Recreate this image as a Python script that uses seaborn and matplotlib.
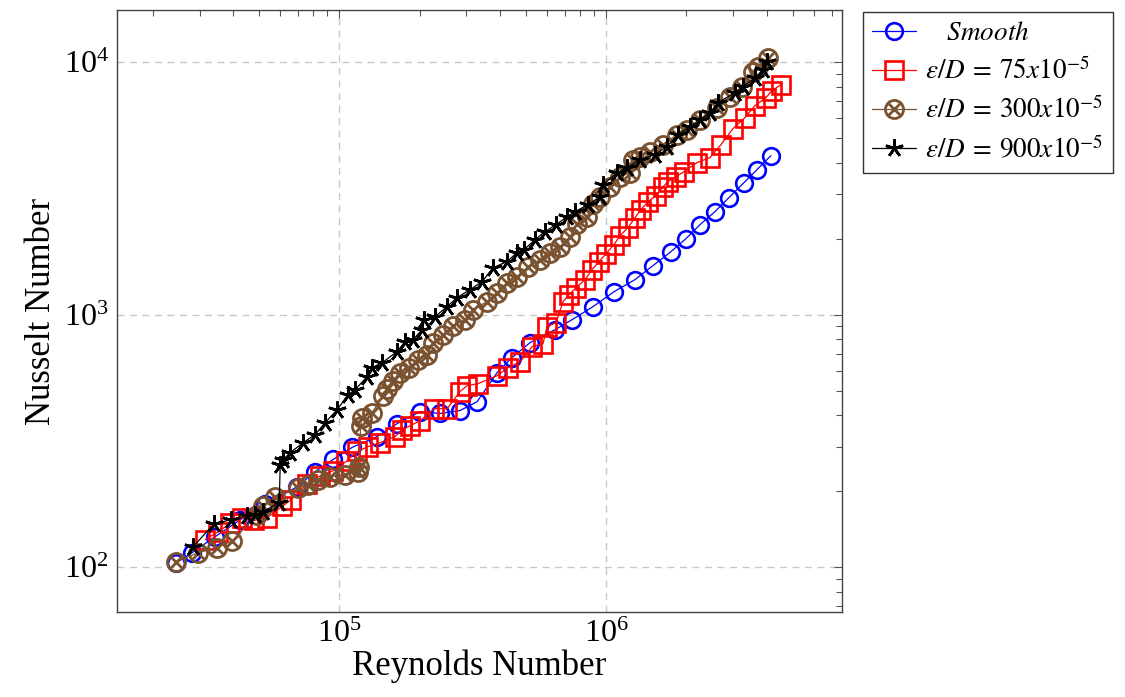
import matplotlib
matplotlib.use("Agg")
import matplotlib.pyplot as plt
import seaborn as sns
from matplotlib.path import Path
from matplotlib.ticker import LogLocator, NullFormatter

# Smooth pipe
smooth_re = [24500, 28100, 34300, 42600, 52800, 69600, 81300, 95000, 111900, 138800,
             164900, 201100, 238900, 283800, 328800, 390700, 444600, 519400, 644200,
             746100, 894000, 1072000, 1284000, 1500000, 1752000, 1994000, 2250000,
             2560000, 2889000, 3288000, 3678000, 4150000]
smooth_nu = [104, 114, 132, 154, 177, 208, 239, 267, 298, 329,
             370, 413, 406, 417, 452, 589, 676, 775, 872,
             955, 1076, 1233, 1376, 1564, 1776, 2000, 2272,
             2558, 2907, 3332, 3751, 4263]

# Relative roughness 75e-5
r75_re = [31500, 35200, 39100, 43300, 48000, 53700, 61200, 66100, 75900, 84900,
          95000, 106200, 116800, 128400, 142400, 162100, 172200, 184500, 201100, 226900,
          253800, 283800, 301600, 331700, 390700, 429500, 476400, 528400, 580900, 601200,
          649800, 690200, 727000, 772200, 834300, 886300, 941400, 1000000, 1072000, 1128000,
          1209000, 1284000, 1352000, 1437000, 1539000, 1635000, 1707000, 1829000, 1960000,
          2192000, 2452000, 2696000, 2990000, 3317000, 3615000, 3975000, 4186000, 4523000]
r75_nu = [128.5, 138, 149, 157, 153, 157, 174, 185, 214, 230,
          241, 262, 287, 300, 311, 329, 350, 363, 380, 424,
          424, 496, 523, 533, 573, 617, 651, 747, 768, 896,
          930, 1126, 1200, 1279, 1376, 1507, 1622, 1745, 1893, 2056,
          2211, 2422, 2605, 2803, 2960, 3213, 3363, 3519, 3684,
          4000, 4187, 4713, 5453, 6029, 6725, 7234, 7711, 8145]

# Relative roughness 300e-5
r300_re = [24500, 29640, 34920, 39740, 49320, 51920, 57590, 70210, 76530, 83440,
           92530, 105300, 117800, 119000, 120300, 121900, 132900, 146200, 151300, 159300,
           169200, 182900, 197600, 213600, 224900, 245200, 267300, 296400, 317700, 358400,
           390700, 425900, 464200, 510500, 566100, 617000, 672600, 733300, 778900, 848800,
           894000, 949500, 1035000, 1128000, 1230000, 1262000, 1341000, 1462000, 1635000,
           1845000, 2011000, 2250000, 2604000, 2914000, 3232000, 3553000, 3710000, 4044000]
r300_nu = [105, 114, 119.5, 127, 161, 174, 190, 206, 212, 222,
           228, 232, 239, 250, 363, 391, 409, 478, 509, 548,
           589, 617, 663, 694, 775, 833, 905, 955, 1047, 1126,
           1222, 1339, 1414, 1549, 1651, 1761, 1859, 2037, 2293, 2444,
           2752, 2934, 3213, 3519, 3650, 4111, 4225, 4421, 4713,
           5164, 5404, 5920, 6603, 7301, 7998, 9171, 9598, 10420]

# Relative roughness 900e-5
r900_re = [28390, 34020, 39390, 45200, 48460, 51920, 59600, 60120, 61700, 65550,
           73310, 81320, 88620, 98290, 108100, 114800, 127300, 132900, 144900, 164900,
           176700, 189300, 204600, 208200, 228800, 253800, 276700, 309500, 343300, 377500,
           425900, 464200, 493200, 542300, 591000, 649800, 714500, 765600, 856200, 949500,
           974500, 1100000, 1199000, 1341000, 1526000, 1692000, 1861000, 2064000, 2250000,
           2452000, 2627000, 3042000, 3260000, 3615000, 3873000, 4009000]
r900_nu = [120.6, 148.7, 154, 160, 161.4, 165.9, 180, 254.6, 266.5, 284,
           311, 335, 373.5, 420.5, 482, 505, 568, 617, 645, 714,
           782, 796, 872, 955, 982, 1076, 1168, 1256, 1351, 1535,
           1622, 1761, 1809, 1982, 2132, 2272, 2444, 2558, 2726, 2934,
           3272, 3650, 3821, 4111, 4302, 4628, 5164, 5554, 5920,
           6310, 6912, 7571, 7998, 8682, 9339, 10046]

labels = [r"$\;\;\;\;Smooth$", r"$\epsilon/D\:=\:75x10^{-5}$",
          r"$\epsilon/D\:=\:300x10^{-5}$", r"$\epsilon/D\:=\:900x10^{-5}$"]

sns.set_theme(style="white")
plt.rcParams["font.family"] = ["Liberation Serif", "DejaVu Serif"]
plt.rcParams["mathtext.fontset"] = "stix"
plt.rcParams["text.color"] = "black"
plt.rcParams["axes.labelcolor"] = "black"
plt.rcParams["xtick.labelcolor"] = "black"
plt.rcParams["ytick.labelcolor"] = "black"

# circle with a cross inside (otimes)
d = 0.7071
otimes = Path.make_compound_path(
    Path.unit_circle(),
    Path([(-d, -d), (d, d), (-d, d), (d, -d)],
         [Path.MOVETO, Path.LINETO, Path.MOVETO, Path.LINETO]),
)

fig = plt.figure(figsize=(11.25, 6.97), dpi=100)
ax = fig.add_axes([0.104, 0.122, 0.6444, 0.8637])
ax.set_xscale("log")
ax.set_yscale("log")

series = [
    (smooth_re, smooth_nu, "#0000ff", "o", 12.0, 1.9),
    (r75_re, r75_nu, "#ff0000", "s", 12.5, 1.9),
    (r300_re, r300_nu, "#7a5230", otimes, 13.0, 2.0),
    (r900_re, r900_nu, "#000000", (5, 2, 0), 13.0, 1.9),
]
for (xs, ys, col, mk, ms, mew), lab in zip(series, labels):
    sns.lineplot(x=xs, y=ys, ax=ax, color=col, linewidth=0.9, marker=mk,
                 markersize=ms, markeredgewidth=mew, markeredgecolor=col,
                 markerfacecolor="none", estimator=None, sort=False, label=lab)

ax.set_xlim(1.47e4, 7.66e6)
ax.set_ylim(66.4, 1.61e4)

ax.xaxis.set_major_locator(LogLocator(base=10))
ax.yaxis.set_major_locator(LogLocator(base=10))
ax.xaxis.set_minor_locator(LogLocator(base=10, subs=range(2, 10)))
ax.yaxis.set_minor_locator(LogLocator(base=10, subs=range(2, 10)))
ax.xaxis.set_minor_formatter(NullFormatter())
ax.yaxis.set_minor_formatter(NullFormatter())

ax.tick_params(which="both", direction="in", top=True, right=True,
               color="#555555", width=0.8, labelsize=23, pad=6)
ax.tick_params(which="major", length=6)
ax.tick_params(which="minor", length=4)

ax.grid(which="major", linestyle=(0, (5, 4)), color="#c8c8c8", linewidth=1.0)
for sp in ax.spines.values():
    sp.set_color("#444444")
    sp.set_linewidth(1.0)

ax.set_xlabel("Reynolds Number", fontsize=25, labelpad=0)
ax.set_ylabel("Nusselt Number", fontsize=25, labelpad=4)

leg = ax.legend(loc="upper left", bbox_to_anchor=(1.029, 0.997), frameon=True,
                fancybox=False, edgecolor="black", fontsize=19.5, handlelength=1.6,
                borderpad=0.35, labelspacing=0.42, handletextpad=0.35,
                borderaxespad=0)
leg.get_frame().set_linewidth(1.0)

fig.savefig("out.png", dpi=100)
